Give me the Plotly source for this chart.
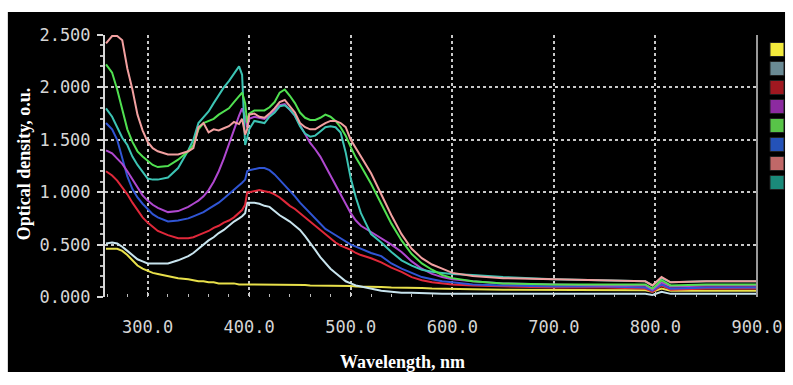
import plotly.graph_objects as go

wavelength = [259, 265, 270, 275, 280, 285, 290, 295, 300, 305, 310, 320, 330, 340, 345,
              350, 355, 360, 365, 370, 375, 380, 385, 390, 393, 396, 398, 400, 405, 410,
              415, 420, 425, 430, 435, 440, 445, 450, 455, 460, 465, 470, 475, 480, 485,
              490, 495, 500, 505, 510, 520, 530, 540, 550, 560, 570, 580, 590, 600, 620,
              650, 700, 750, 790, 797, 806, 815, 850, 900]

od_yellow = [0.46, 0.46, 0.46, 0.44, 0.40, 0.35, 0.30, 0.27, 0.25, 0.23, 0.22, 0.20, 0.18, 0.17, 0.16,
             0.15, 0.15, 0.14, 0.14, 0.13, 0.13, 0.13, 0.13, 0.12, 0.12, 0.12, 0.12, 0.12, 0.12, 0.12,
             0.12, 0.12, 0.12, 0.12, 0.12, 0.115, 0.115, 0.115, 0.115, 0.11, 0.11, 0.11, 0.11, 0.11, 0.11,
             0.11, 0.105, 0.105, 0.10, 0.10, 0.10, 0.095, 0.09, 0.09, 0.085, 0.085, 0.08, 0.08, 0.08, 0.075,
             0.07, 0.07, 0.065, 0.065, 0.05, 0.08, 0.06, 0.06, 0.06]

od_white = [0.51, 0.52, 0.51, 0.48, 0.44, 0.40, 0.36, 0.34, 0.32, 0.32, 0.32, 0.32, 0.35, 0.39, 0.42,
            0.46, 0.50, 0.54, 0.57, 0.61, 0.64, 0.68, 0.72, 0.75, 0.77, 0.80, 0.90, 0.90, 0.90, 0.89,
            0.87, 0.86, 0.82, 0.78, 0.75, 0.72, 0.68, 0.64, 0.58, 0.52, 0.45, 0.38, 0.32, 0.27, 0.23,
            0.19, 0.15, 0.13, 0.11, 0.10, 0.08, 0.06, 0.05, 0.04, 0.04, 0.035, 0.035, 0.03, 0.03, 0.03,
            0.03, 0.03, 0.03, 0.03, 0.02, 0.05, 0.03, 0.03, 0.03]

od_red = [1.20, 1.16, 1.11, 1.05, 0.98, 0.90, 0.83, 0.76, 0.71, 0.67, 0.63, 0.59, 0.56, 0.56, 0.57,
          0.59, 0.61, 0.63, 0.66, 0.68, 0.71, 0.73, 0.76, 0.80, 0.83, 0.88, 1.00, 1.00, 1.01, 1.02,
          1.01, 1.00, 0.98, 0.95, 0.91, 0.87, 0.84, 0.80, 0.76, 0.72, 0.68, 0.64, 0.60, 0.56, 0.52,
          0.49, 0.47, 0.45, 0.42, 0.40, 0.37, 0.33, 0.28, 0.24, 0.19, 0.16, 0.14, 0.13, 0.12, 0.11,
          0.10, 0.09, 0.09, 0.08, 0.05, 0.11, 0.07, 0.08, 0.08]

od_blue = [1.66, 1.60, 1.50, 1.33, 1.15, 1.03, 0.95, 0.89, 0.84, 0.79, 0.76, 0.72, 0.73, 0.75, 0.77,
           0.79, 0.81, 0.84, 0.87, 0.90, 0.94, 0.98, 1.02, 1.06, 1.09, 1.12, 1.20, 1.21, 1.22, 1.23,
           1.23, 1.21, 1.17, 1.12, 1.07, 1.02, 0.96, 0.90, 0.85, 0.80, 0.75, 0.70, 0.65, 0.62, 0.59,
           0.56, 0.53, 0.50, 0.48, 0.46, 0.42, 0.39, 0.32, 0.27, 0.23, 0.19, 0.17, 0.15, 0.14, 0.12,
           0.11, 0.10, 0.10, 0.09, 0.06, 0.12, 0.08, 0.09, 0.09]

od_purple = [1.40, 1.37, 1.32, 1.27, 1.20, 1.12, 1.04, 0.97, 0.92, 0.88, 0.85, 0.81, 0.82, 0.86, 0.89,
             0.92, 0.96, 1.02, 1.10, 1.20, 1.32, 1.46, 1.60, 1.73, 1.80, 1.72, 1.62, 1.70, 1.72, 1.71,
             1.70, 1.73, 1.78, 1.83, 1.84, 1.79, 1.73, 1.64, 1.56, 1.47, 1.41, 1.34, 1.25, 1.16, 1.07,
             0.98, 0.88, 0.80, 0.73, 0.68, 0.62, 0.56, 0.50, 0.43, 0.34, 0.27, 0.22, 0.19, 0.17, 0.15,
             0.13, 0.12, 0.11, 0.11, 0.07, 0.14, 0.10, 0.11, 0.11]

od_teal = [1.80, 1.72, 1.62, 1.52, 1.45, 1.34, 1.26, 1.19, 1.13, 1.12, 1.12, 1.14, 1.23, 1.40, 1.50,
           1.66, 1.72, 1.77, 1.85, 1.93, 2.00, 2.06, 2.13, 2.20, 2.12, 1.45, 1.52, 1.60, 1.68, 1.67,
           1.66, 1.72, 1.76, 1.82, 1.83, 1.79, 1.73, 1.63, 1.56, 1.53, 1.54, 1.58, 1.62, 1.63, 1.62,
           1.57, 1.38, 1.13, 0.95, 0.80, 0.60, 0.52, 0.43, 0.35, 0.30, 0.26, 0.24, 0.23, 0.22, 0.21,
           0.19, 0.17, 0.16, 0.15, 0.11, 0.18, 0.14, 0.15, 0.15]

od_green = [2.22, 2.14, 1.98, 1.78, 1.60, 1.48, 1.39, 1.34, 1.30, 1.26, 1.24, 1.25, 1.31, 1.39, 1.45,
            1.60, 1.66, 1.68, 1.70, 1.74, 1.77, 1.80, 1.86, 1.92, 1.95, 1.85, 1.66, 1.75, 1.78, 1.78,
            1.78, 1.81, 1.86, 1.95, 1.98, 1.92, 1.85, 1.76, 1.71, 1.69, 1.69, 1.71, 1.74, 1.72, 1.68,
            1.62, 1.54, 1.43, 1.33, 1.25, 1.08, 0.89, 0.70, 0.54, 0.41, 0.32, 0.26, 0.21, 0.18, 0.15,
            0.13, 0.12, 0.12, 0.12, 0.08, 0.16, 0.11, 0.12, 0.12]

od_pink = [2.42, 2.49, 2.49, 2.45, 2.18, 1.98, 1.74, 1.59, 1.48, 1.42, 1.39, 1.36, 1.36, 1.39, 1.42,
           1.62, 1.66, 1.57, 1.60, 1.59, 1.61, 1.63, 1.67, 1.65, 1.70, 1.55, 1.60, 1.74, 1.75, 1.72,
           1.71, 1.75, 1.80, 1.86, 1.88, 1.82, 1.76, 1.66, 1.62, 1.60, 1.60, 1.63, 1.66, 1.68, 1.68,
           1.66, 1.62, 1.50, 1.42, 1.34, 1.18, 0.98, 0.78, 0.60, 0.46, 0.37, 0.31, 0.27, 0.23, 0.20,
           0.18, 0.17, 0.16, 0.15, 0.11, 0.19, 0.14, 0.15, 0.15]

series = [
    ("yellow", od_yellow, "#e8e04a"),
    ("white", od_white, "#c8e4ee"),
    ("red", od_red, "#e0283a"),
    ("blue", od_blue, "#3055d4"),
    ("purple", od_purple, "#b048d0"),
    ("teal", od_teal, "#3cc4b4"),
    ("green", od_green, "#50e050"),
    ("pink", od_pink, "#f2a0a0"),
]

legend_colors = ["#f2ea3c", "#6a8a94", "#a01820", "#8c2aa0", "#58c448", "#2452b8", "#c06868", "#1a8a7a"]

x_ticks = [300, 400, 500, 600, 700, 800, 900]
x_ticklabels = ["300.0", "400.0", "500.0", "600.0", "700.0", "800.0", "900.0"]
y_ticks = [0, 0.5, 1.0, 1.5, 2.0, 2.5]
y_ticklabels = ["0.000", "0.500", "1.000", "1.500", "2.000", "2.500"]

fig = go.Figure()
for name, vals, col in series:
    fig.add_trace(go.Scatter(x=wavelength, y=vals, mode="lines", name=name,
                             line=dict(color=col, width=2), showlegend=False,
                             cliponaxis=True))

for col in legend_colors:
    fig.add_trace(go.Scatter(x=[None], y=[None], mode="markers", name=" ",
                             marker=dict(symbol="square", size=14, color=col,
                                         line=dict(color="#202020", width=1)),
                             showlegend=True))

grid_col = "#c8c8c8"
tick_font = dict(family="DejaVu Sans Mono", size=17, color="#d6d6d6")

fig.update_layout(
    width=793, height=385,
    margin=dict(l=105, r=36, t=35, b=88, autoexpand=False),
    paper_bgcolor="white",
    plot_bgcolor="black",
    showlegend=True,
    legend=dict(xref="container", yref="container", x=757 / 793, y=1 - 35 / 385,
                xanchor="left", yanchor="top",
                bgcolor="rgba(0,0,0,0)", font=dict(size=12, color="black"),
                tracegroupgap=0, itemwidth=30),
    xaxis=dict(range=[258, 900], tickvals=x_ticks, ticktext=x_ticklabels,
               tickfont=tick_font, showgrid=True, gridcolor=grid_col, gridwidth=1.5,
               griddash="3px,3px", zeroline=False, showline=False, automargin=False,
               ticks="inside", ticklen=5, tickcolor="#d0d0d0", tickwidth=1,
               ticklabelstandoff=18,
               minor=dict(dtick=20, ticks="inside", ticklen=3, tickcolor="#bbbbbb", showgrid=False)),
    yaxis=dict(range=[0, 2.5], tickvals=y_ticks, ticktext=y_ticklabels,
               tickfont=tick_font, showgrid=True, gridcolor=grid_col, gridwidth=1.5,
               griddash="3px,3px", zeroline=False, showline=True, linecolor="#d8d8d8",
               linewidth=2, ticks="outside", ticklen=6, tickcolor="#d8d8d8", tickwidth=2,
               ticklabelstandoff=3, automargin=False,
               minor=dict(dtick=0.1, ticks="outside", ticklen=3, tickcolor="#bbbbbb", showgrid=False)),
    shapes=[
        dict(type="rect", xref="paper", yref="paper", x0=-0.149, x1=1.043, y0=-0.286, y1=1.088,
             fillcolor="black", line=dict(width=0), layer="below"),
        dict(type="line", xref="paper", yref="paper", x0=1, x1=1, y0=0, y1=1,
             line=dict(color="#9a9a9a", width=2)),
    ],
    annotations=[
        dict(text="<b>Wavelength, nm</b>", xref="paper", yref="paper", x=0.457, y=-0.248,
             xanchor="center", yanchor="middle", showarrow=False,
             font=dict(family="Liberation Serif", size=18, color="white")),
        dict(text="<b>Optical density, o.u.</b>", xref="paper", yref="paper", x=-0.123, y=0.51,
             xanchor="center", yanchor="middle", textangle=-90, showarrow=False,
             font=dict(family="Liberation Serif", size=18, color="white")),
    ],
)

fig.write_html("out.html", config={"displayModeBar": False},
               post_script="document.body.style.margin='0';")
